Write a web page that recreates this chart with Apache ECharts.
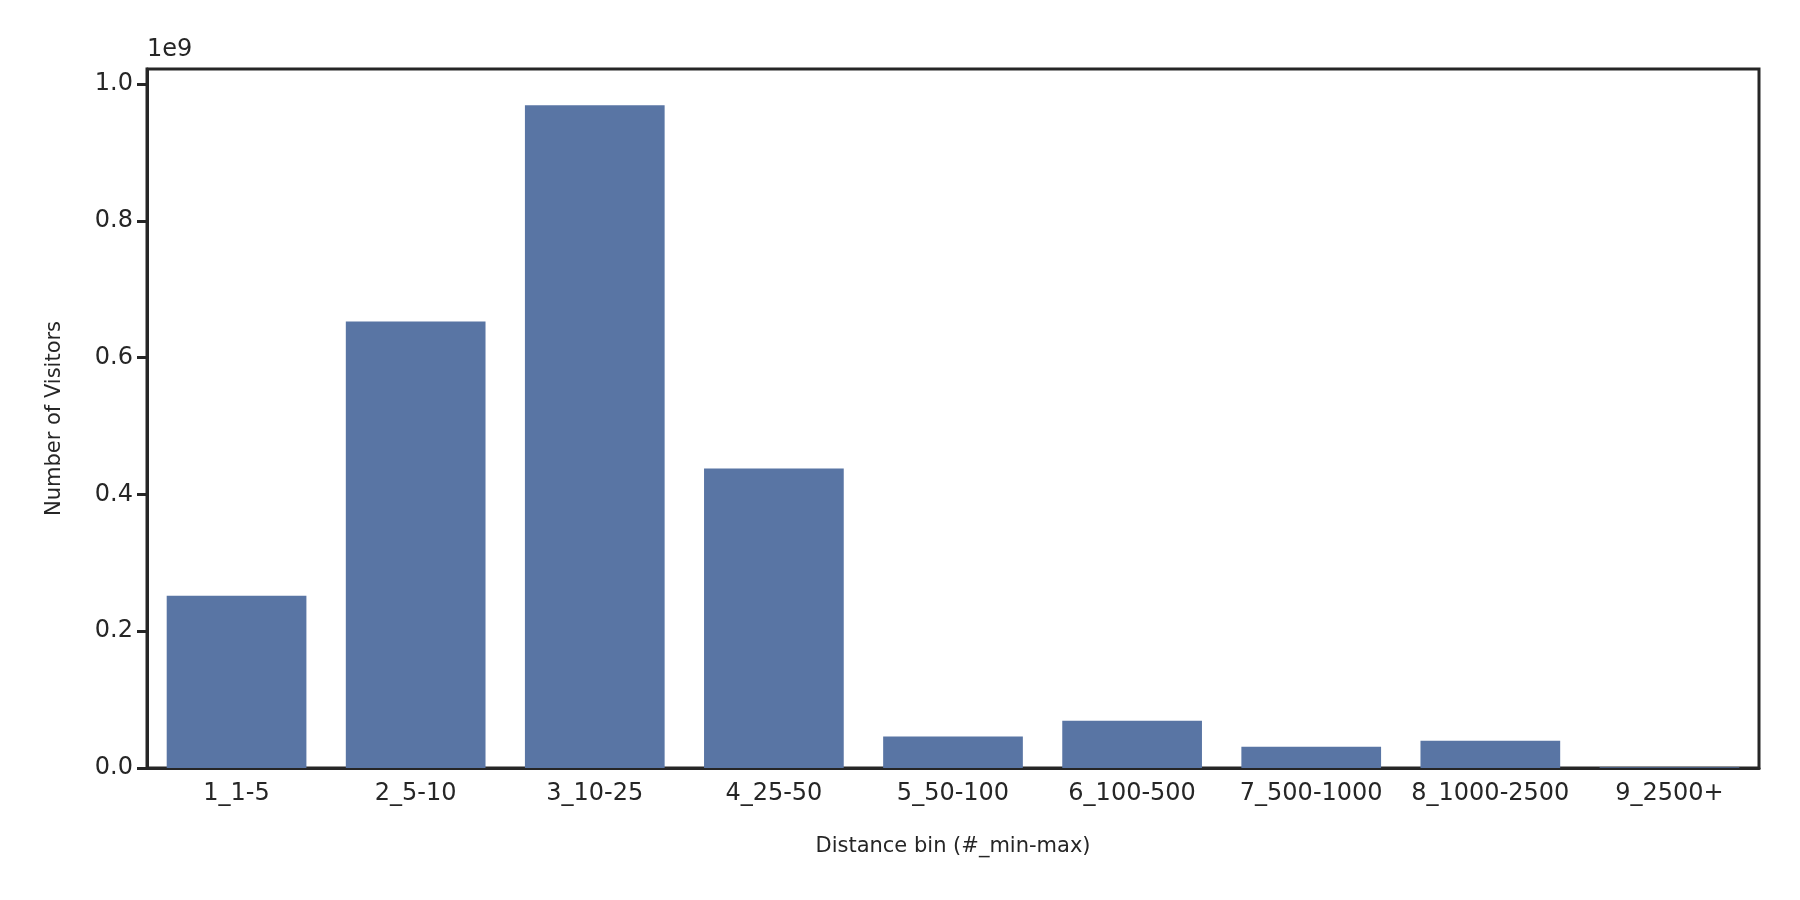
<!DOCTYPE html>
<html><head><meta charset="utf-8">
<script src="https://cdn.jsdelivr.net/npm/echarts@6/dist/echarts.min.js"></script>
<style>html,body{margin:0;padding:0;background:#fff}#c{width:1800px;height:900px}</style>
</head><body><div id="c"></div>
<script>
const categories = ["1_1-5","2_5-10","3_10-25","4_25-50","5_50-100","6_100-500","7_500-1000","8_1000-2500","9_2500+"];
const visitors = [0.252e9,0.653e9,0.969e9,0.438e9,0.046e9,0.069e9,0.031e9,0.040e9,0.001e9];
const chart = echarts.init(document.getElementById('c'));
const tc = '#262626';
chart.setOption({
  animation:false,
  textStyle:{fontFamily:'DejaVu Sans'},
  grid:{left:147,right:41,top:69,bottom:132,show:true,borderColor:tc,borderWidth:3,backgroundColor:'transparent'},
  graphic:[{type:'text',left:147,top:38,style:{text:'1e9',font:'24px DejaVu Sans',fill:tc}}],
  xAxis:{type:'category',data:categories,name:'Distance bin (#_min-max)',nameLocation:'middle',nameGap:68,
    nameTextStyle:{fontSize:21,color:tc},
    axisLine:{lineStyle:{color:tc,width:3}},axisTick:{alignWithLabel:true,length:10,lineStyle:{width:3,color:tc}},
    axisLabel:{fontSize:24,color:tc,margin:14,interval:0}},
  yAxis:{type:'value',min:0,max:1.022e9,interval:0.2e9,name:'Number of Visitors',nameLocation:'middle',nameGap:82,
    nameTextStyle:{fontSize:21,color:tc},
    axisLine:{show:true,lineStyle:{color:tc,width:3}},axisTick:{show:true,length:10,lineStyle:{width:3,color:tc}},
    splitLine:{show:false},
    axisLabel:{fontSize:24,color:tc,margin:14,formatter:v=>(v/1e9).toFixed(1)}},
  series:[{type:'bar',data:visitors,barCategoryGap:'22%',itemStyle:{color:'#5975a4'}}]
});
</script></body></html>
